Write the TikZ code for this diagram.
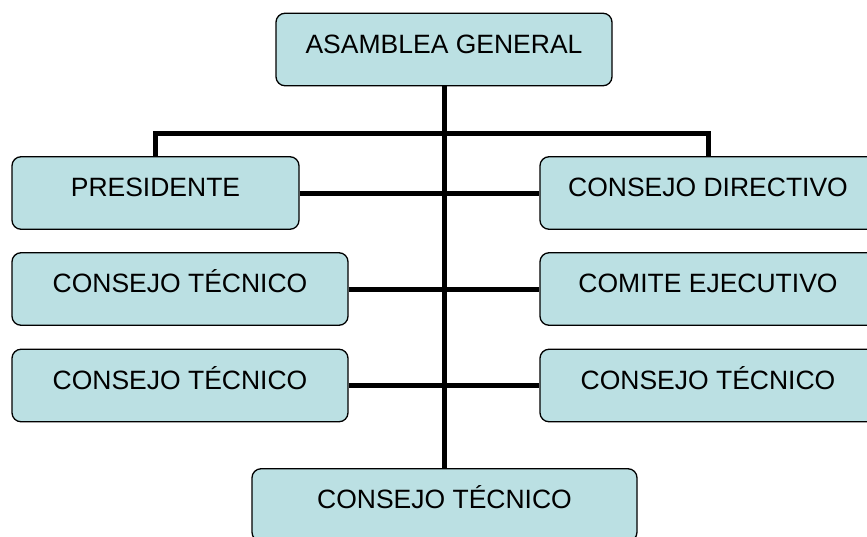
\documentclass[tikz,border=0pt]{standalone}
\usepackage{fontspec}
\setmainfont{Liberation Sans}
\usetikzlibrary{backgrounds}
\definecolor{boxfill}{RGB}{187,224,227}
\begin{document}
\begin{tikzpicture}[x=1pt,y=-1pt,
  orgbox/.style={draw=black, line width=1.3pt, fill=boxfill, rounded corners=9pt,
    minimum height=72.5pt, inner sep=0pt, font=\fontsize{26.5}{30}\selectfont,
    text height=19pt, text depth=12pt},
  link/.style={draw=black, line width=5pt}]
\useasboundingbox (0,0) rectangle (867,536);
\node[orgbox, minimum width=336pt] (asam) at (444,49.5) {ASAMBLEA GENERAL};
\node[orgbox, minimum width=287pt] (pres) at (155.5,193) {PRESIDENTE};
\node[orgbox, minimum width=336pt] (cdir) at (708,193) {CONSEJO DIRECTIVO};
\node[orgbox, minimum width=336pt] (ctA) at (180,289) {CONSEJO TÉCNICO};
\node[orgbox, minimum width=336pt] (ceje) at (708,289) {COMITE EJECUTIVO};
\node[orgbox, minimum width=336pt] (ctB) at (180,385.5) {CONSEJO TÉCNICO};
\node[orgbox, minimum width=336pt] (ctC) at (708,385.5) {CONSEJO TÉCNICO};
\node[orgbox, minimum width=385pt] (ctD) at (444.5,505) {CONSEJO TÉCNICO};
\coordinate (bar) at (444,133);
\begin{scope}[on background layer]
  \draw[link] (asam.south) -- (asam.south |- ctD.north);
  \draw[link] (pres.north) -- (pres.north |- bar) -- (cdir.north |- bar) -- (cdir.north);
  \draw[link] (pres.east) -- (cdir.west);
  \draw[link] (ctA.east) -- (ceje.west);
  \draw[link] (ctB.east) -- (ctC.west);
\end{scope}
\end{tikzpicture}
\end{document}
